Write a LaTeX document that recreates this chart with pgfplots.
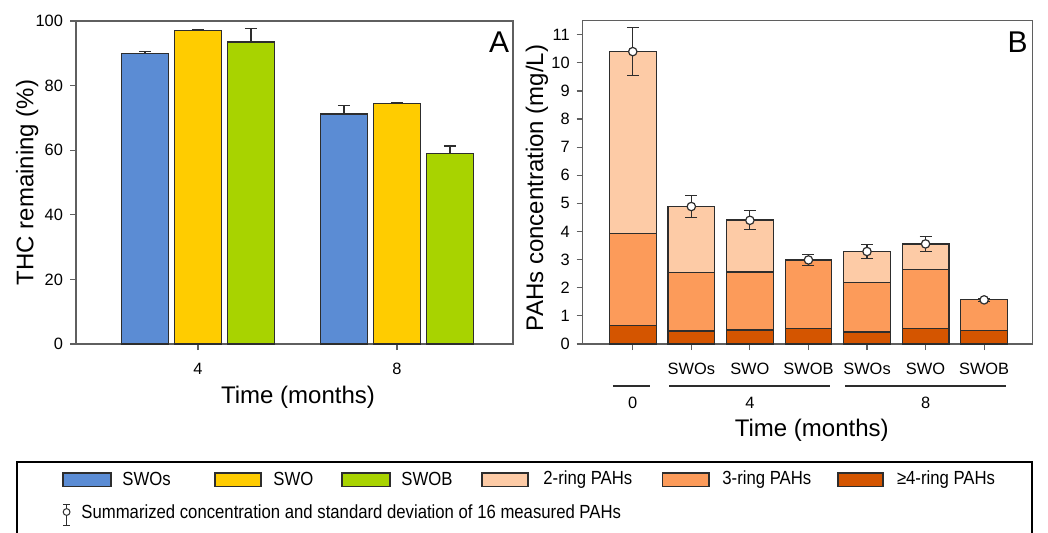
\documentclass[border=0pt]{standalone}
\usepackage{fontspec}
\setmainfont{Liberation Sans}
\newfontfamily\narrowfont[FakeStretch=0.88]{Liberation Sans}
\usepackage{pgfplots}
\pgfplotsset{compat=1.18}

\definecolor{cswos}{RGB}{91,140,212}
\definecolor{cswo}{RGB}{255,204,0}
\definecolor{cswob}{RGB}{168,211,0}
\definecolor{ring2}{RGB}{253,203,166}
\definecolor{ring3}{RGB}{252,155,90}
\definecolor{ring4}{RGB}{212,85,0}
\definecolor{framegray}{RGB}{95,95,95}
\definecolor{edgegray}{RGB}{45,45,45}

\pgfplotsset{
  panel/.style={
    scale only axis, anchor=south west,
    axis line style={framegray, line width=0.6pt},
    tick style={framegray, line width=0.6pt},
    tick align=outside, major tick length=3pt,
    tick pos=left,
    tick label style={font=\fontsize{8.2}{9.8}\selectfont},
    xticklabel style={yshift=-3pt},
    label style={font=\fontsize{12}{14}\selectfont},
    /pgf/number format/assume math mode=true,
    clip=false,
  },
  barstyle/.style={draw=edgegray, line width=0.6pt},
  errstyle/.style={
    error bars/y explicit,
    error bars/y dir=#1,
    error bars/error bar style={edgegray, line width=0.6pt},
    error bars/error mark options={rotate=90, mark size=3pt, edgegray, line width=0.6pt},
  },
}

\begin{document}
\begin{tikzpicture}
\path[use as bounding box] (0,0) rectangle (524pt,266pt);

% ---- panel A: THC remaining ----
\begin{axis}[panel, at={(38pt,94pt)}, width=218.5pt, height=161.5pt,
  ybar=3pt, bar width=23.5pt,
  xmin=-0.613, xmax=1.583, ymin=0, ymax=100,
  xtick={0,1}, xticklabels={4,8},
  ytick={0,20,...,100},
  xlabel={Time (months)}, ylabel={THC remaining (\%)},
  xlabel style={at={(axis description cs:0.508,-0.164)}, anchor=center},
  ylabel style={at={(axis description cs:-0.112,0.5)}, anchor=center},
]
\addplot[barstyle, fill=cswos, errstyle=plus]
  coordinates {(0,90.0) +- (0,0.6) (1,71.2) +- (0,2.7)};
\addplot[barstyle, fill=cswo, errstyle=plus]
  coordinates {(0,97.1) +- (0,0.3) (1,74.4) +- (0,0.2)};
\addplot[barstyle, fill=cswob, errstyle=plus]
  coordinates {(0,93.5) +- (0,4.3) (1,58.9) +- (0,2.4)};
\end{axis}
\node[font=\fontsize{15}{17}\selectfont] at (249.5pt,245pt) {A};

% ---- panel B: PAHs, stacked by ring number ----
\begin{axis}[panel, at={(291.35pt,94pt)}, width=225pt, height=161.65pt,
  ybar stacked, bar width=23.35pt,
  xmin=-0.855, xmax=6.83, ymin=0, ymax=11.5,
  xtick={0,...,6}, xticklabels={,SWOs,SWO,SWOB,SWOs,SWO,SWOB},
  ytick={0,...,11},
  xlabel={Time (months)}, ylabel={PAHs concentration (mg/L)},
  xlabel style={at={(axis description cs:0.509,-0.266)}, anchor=center},
  ylabel style={at={(axis description cs:-0.1016,0.4825)}, anchor=center},
]
\addplot[barstyle, fill=ring4] coordinates
  {(0,0.65) (1,0.46) (2,0.50) (3,0.56) (4,0.43) (5,0.55) (6,0.49)};
\addplot[barstyle, fill=ring3] coordinates
  {(0,3.29) (1,2.08) (2,2.06) (3,2.43) (4,1.76) (5,2.11) (6,1.08)};
\addplot[barstyle, fill=ring2] coordinates
  {(0,6.46) (1,2.35) (2,1.85) (3,0) (4,1.11) (5,0.90) (6,0)};
% time groups under the sample names
\draw[edgegray, line width=0.7pt] ([yshift=-21pt]axis cs:-0.34,0) -- ([yshift=-21pt]axis cs:0.29,0);
\draw[edgegray, line width=0.7pt] ([yshift=-21pt]axis cs:0.62,0) -- ([yshift=-21pt]axis cs:3.37,0);
\draw[edgegray, line width=0.7pt] ([yshift=-21pt]axis cs:3.63,0) -- ([yshift=-21pt]axis cs:6.38,0);
\node[font=\fontsize{8.2}{9.8}\selectfont] at ([yshift=-29.5pt]axis cs:0,0) {0};
\node[font=\fontsize{8.2}{9.8}\selectfont] at ([yshift=-29.5pt]axis cs:2,0) {4};
\node[font=\fontsize{8.2}{9.8}\selectfont] at ([yshift=-29.5pt]axis cs:5,0) {8};
\end{axis}

% totals with standard deviation, same frame, not stacked
\begin{axis}[at={(291.35pt,94pt)}, anchor=south west, scale only axis,
  width=225pt, height=161.65pt, hide axis, clip=false,
  xmin=-0.855, xmax=6.83, ymin=0, ymax=11.5]
\addplot[only marks, mark=*, mark size=2.1pt,
  mark options={fill=white, draw=edgegray, line width=0.6pt},
  errstyle=both]
  coordinates {(0,10.40) +- (0,0.85) (1,4.89) +- (0,0.38) (2,4.40) +- (0,0.34)
               (3,2.99) +- (0,0.20) (4,3.29) +- (0,0.24) (5,3.56) +- (0,0.26)
               (6,1.57) +- (0,0.05)};
\end{axis}
\node[font=\fontsize{15}{17}\selectfont] at (508.85pt,245pt) {B};

% ---- legend box ----
\draw[black, line width=0.8pt] (8.5pt,-5pt) rectangle (515.85pt,35pt);
\begin{scope}[every node/.style={font=\narrowfont\fontsize{9.5}{11}\selectfont, anchor=west, inner sep=0pt}]
  \foreach \xa/\xb/\xt/\col/\txt in {
      31.5/55.5/61/cswos/SWOs,
      107.5/130.5/136.5/cswo/SWO,
      171/195/200.5/cswob/SWOB,
      241/264/271.5/ring2/2-ring PAHs,
      331.3/354.5/361/ring3/3-ring PAHs,
      419/441.5/448.3/ring4/≥4-ring PAHs} {
    \draw[edgegray, line width=0.6pt, fill=\col] (\xa pt,22.65pt) rectangle (\xb pt,29.5pt);
    \node at (\xt pt,26.3pt) {\txt};
  }
  \draw[edgegray, line width=0.5pt] (33.3pt,14pt) -- (33.3pt,3.2pt);
  \draw[edgegray, line width=0.5pt] (31.5pt,14pt) -- (35.1pt,14pt);
  \draw[edgegray, line width=0.5pt] (31.5pt,3.2pt) -- (35.1pt,3.2pt);
  \draw[edgegray, line width=0.5pt, fill=white] (33.3pt,10pt) circle (1.7pt);
  \node at (40.5pt,10pt) {Summarized concentration and standard deviation of 16 measured PAHs};
\end{scope}
\end{tikzpicture}
\end{document}
